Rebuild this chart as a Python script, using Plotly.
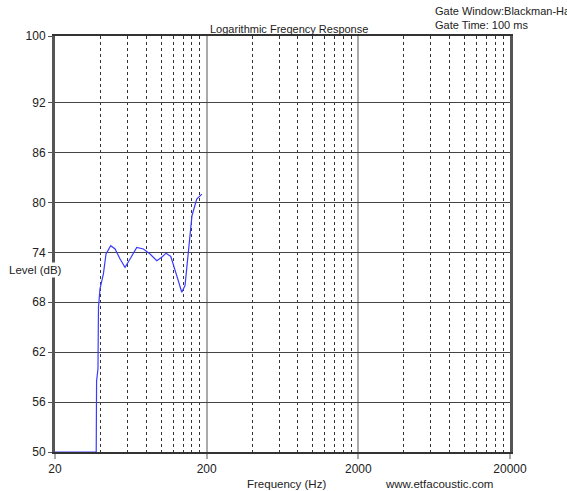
import plotly.graph_objects as go
import numpy as np

# Data
freq_hz = [20, 37.4, 37.6, 38.4, 38.7, 39.6, 41.7, 43.4, 46.6, 49.8, 53.7, 57.9, 62.5,
           69.2, 76.5, 84.7, 93.8, 101, 108, 116, 127, 137, 144, 152, 160, 172, 186]
level_db = [50, 50, 58.5, 60, 67.4, 69.6, 71.4, 73.8, 74.8, 74.4, 73.2, 72.2, 73.2,
            74.6, 74.4, 73.8, 73.0, 73.4, 73.9, 73.5, 71.2, 69.2, 70.0, 74.4, 78.4, 80.4, 81.0]

y_ticks = [50, 56, 62, 68, 74, 80, 86, 92, 100]
x_major = [20, 200, 2000, 20000]
x_minor = [20 * k * 10 ** n for n in range(3) for k in range(2, 10)]

W, H = 567, 491
L, R, T, B = 55, 57, 36, 39
pw, ph = W - L - R, H - T - B

fig = go.Figure()
fig.add_trace(go.Scatter(x=freq_hz, y=level_db, mode="lines",
                         line=dict(color="#3a3aff", width=1.2), showlegend=False,
                         hoverinfo="skip"))

font = "Liberation Sans, Arial, sans-serif"
fig.update_layout(
    width=W, height=H,
    margin=dict(l=L, r=R, t=T, b=B),
    paper_bgcolor="white", plot_bgcolor="white",
    font=dict(family=font, size=12, color="#222"),
    xaxis=dict(type="log", range=[np.log10(20), np.log10(20000)],
               tickvals=x_major, ticktext=[str(v) for v in x_major],
               showgrid=True, gridcolor="#aaaaaa", gridwidth=2,
               ticks="outside", ticklen=5, tickcolor="#aaaaaa", tickwidth=2,
               showline=True, linecolor="#333", linewidth=1.5, mirror=True,
               minor=dict(tickvals=x_minor, showgrid=True, gridcolor="#333",
                          griddash="dot", gridwidth=1, ticks=""),
               zeroline=False, tickfont=dict(size=12, color="#222")),
    yaxis=dict(range=[50, 100], tickvals=y_ticks,
               showgrid=True, gridcolor="#444", gridwidth=1,
               ticks="outside", ticklen=4, tickcolor="#555",
               showline=True, linecolor="#555", linewidth=3, mirror=True,
               zeroline=False, tickfont=dict(size=12, color="#222")),
)

fig.add_annotation(text="Logarithmic Freqency Response", xref="paper", yref="paper",
                   x=(289 - L) / pw, y=1, yanchor="bottom", xanchor="center",
                   showarrow=False, font=dict(size=11, color="#222"), yshift=-1)
fig.add_annotation(text="Gate Window:Blackman-Harris<br>Gate Time: 100 ms", xref="paper", yref="paper",
                   x=(433 - L) / pw, y=1 + (T - 3) / ph, yanchor="top", xanchor="left", align="left",
                   showarrow=False, font=dict(size=11, color="#222"))
fig.add_annotation(text="Level (dB)", xref="paper", yref="paper",
                   x=(35 - L) / pw, y=(H - B - 270) / ph, xanchor="center", yanchor="middle",
                   showarrow=False, bgcolor="white", font=dict(size=11.5, color="#222"))
fig.add_annotation(text="Frequency (Hz)", xref="paper", yref="paper",
                   x=(286 - L) / pw, y=-(484 - (H - B)) / ph, xanchor="center", yanchor="middle",
                   showarrow=False, font=dict(size=11.5, color="#222"))
fig.add_annotation(text="www.etfacoustic.com", xref="paper", yref="paper",
                   x=(439 - L) / pw, y=-(484 - (H - B)) / ph, xanchor="center", yanchor="middle",
                   showarrow=False, font=dict(size=11.5, color="#222"))

fig.write_html("out.html", config={"displayModeBar": False},
               post_script="document.body.style.margin='0';document.body.style.overflow='hidden';")
